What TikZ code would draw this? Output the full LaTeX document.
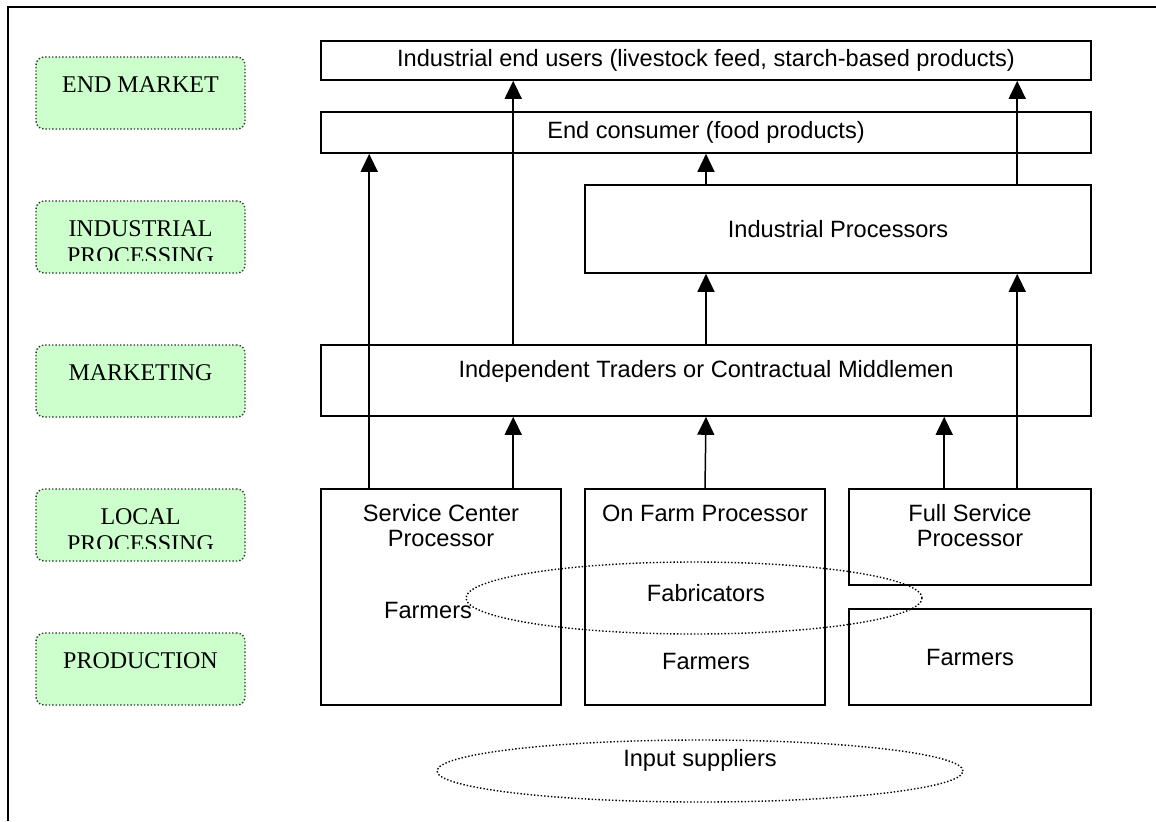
\documentclass[tikz,border=0pt]{standalone}
\usepackage{fontspec}
\setmainfont{Liberation Serif}
\setsansfont{Liberation Sans}
\usetikzlibrary{arrows.meta,shapes.geometric}
\definecolor{stagegreen}{HTML}{CCFFCC}
\tikzstyle{stage}=[draw=black!80, densely dotted, line width=0.7pt, fill=stagegreen, rounded corners=4pt, minimum width=104.5pt, minimum height=36pt]
\tikzstyle{stagetxt}=[anchor=north, inner sep=0pt, align=center, font=\fontsize{12}{13.5}\selectfont]
\tikzstyle{int}=[draw, line width=0.8pt, fill=white, inner sep=0pt, align=center, font=\sffamily\fontsize{11.8}{12.5}\selectfont]
\tikzstyle{toptxt}=[anchor=north, inner sep=0pt, align=center, font=\sffamily\fontsize{11.8}{12.5}\selectfont]
\tikzstyle{txt}=[inner sep=0pt, font=\sffamily\fontsize{11.8}{12.5}\selectfont]
\tikzstyle{oval}=[ellipse, draw, densely dotted, line width=0.7pt, inner sep=0pt]

\begin{document}
\begin{tikzpicture}[x=0.5pt,y=-0.5pt,node distance=72pt,>={Triangle[length=9pt,width=8.5pt]}]
        \useasboundingbox (0,0) rectangle (1156,821);
        \draw[line width=0.9pt] (8,821) -- (8,7) -- (1156,7);

        % stages on the left
        \node [stage] (em) at (140.5,93) {};
        \node [stage, below of=em] (ip) {};
        \node [stage, below of=ip] (mk) {};
        \node [stage, below of=mk] (lp) {};
        \node [stage, below of=lp] (pr) {};
        \node [stagetxt] (emT) at ([yshift=-10pt]em.north) {END MARKET};
        \begin{scope}
          \clip (ip.north west) rectangle ([yshift=6.5pt]ip.south east);
          \node [stagetxt] (ipT) at ([yshift=-10pt]ip.north) {INDUSTRIAL\\PROCESSING};
        \end{scope}
        \node [stagetxt] (mkT) at ([yshift=-10pt]mk.north) {MARKETING};
        \begin{scope}
          \clip (lp.north west) rectangle ([yshift=6.5pt]lp.south east);
          \node [stagetxt] (lpT) at ([yshift=-10pt]lp.north) {LOCAL\\PROCESSING};
        \end{scope}
        \node [stagetxt] (prT) at ([yshift=-10pt]pr.north) {PRODUCTION};

        % chain
        \node [int, minimum width=385pt, minimum height=19.5pt] (users) at (706,60.5) {Industrial end users (livestock feed, starch-based products)};
        \node [int, minimum width=385pt, minimum height=20.5pt] (cons) at (706,132.5) {End consumer (food products)};
        \node [int, minimum width=253pt, minimum height=44pt] (indp) at (838,229) {Industrial Processors};
        \node [int, minimum width=385pt, minimum height=35.5pt] (trad) at (706,380.5) {};
        \node [toptxt] (tradT) at ([yshift=-8pt]trad.north) {Independent Traders or Contractual Middlemen};
        \node [int, minimum width=120pt, minimum height=108pt] (sc) at (441,597) {};
        \node [toptxt] (scT) at ([yshift=-8pt]sc.north) {Service Center\\Processor};
        \node [int, minimum width=120pt, minimum height=108pt] (ofp) at (705,597) {};
        \node [toptxt] (ofpT) at ([yshift=-8pt]ofp.north) {On Farm Processor};
        \node [int, minimum width=121pt, minimum height=48pt] (fsp) at (970,537) {};
        \node [toptxt] (fspT) at ([yshift=-8pt]fsp.north) {Full Service\\Processor};
        \node [int, minimum width=121pt, minimum height=48pt] (fsf) at (970,657) {Farmers};
        \node [txt] (scF) at (428,610) {Farmers};
        \node [txt] (ofpF) at (706,661) {Farmers};
        \node [txt] (fabT) at (706,593) {Fabricators};
        \node [oval, minimum width=228pt, minimum height=36pt] (fab) at (694,598) {};
        \node [oval, minimum width=263pt, minimum height=31pt] (inp) at (700,771) {};
        \node [txt] (inpT) at (700,760) {Input suppliers};

        \coordinate (ca) at ([xshift=24.5pt]sc.north west);
        \coordinate (cb) at ([xshift=96.5pt]sc.north west);
        \coordinate (cd) at ([xshift=48pt]fsp.north west);
        \coordinate (ce) at ([xshift=84.5pt]fsp.north west);

        \path[->, line width=0.75pt] (ca) edge (ca |- cons.south)
          (cb) edge (cb |- trad.south)
          (ofp.north) edge (trad.south)
          (cd) edge (cd |- trad.south)
          (ce) edge (ce |- indp.south)
          (cb |- trad.north) edge (cb |- users.south)
          (trad.north) edge (trad.north |- indp.south)
          (trad.north |- indp.north) edge (trad.north |- cons.south)
          (ce |- indp.north) edge (ce |- users.south);
\end{tikzpicture}
\end{document}
